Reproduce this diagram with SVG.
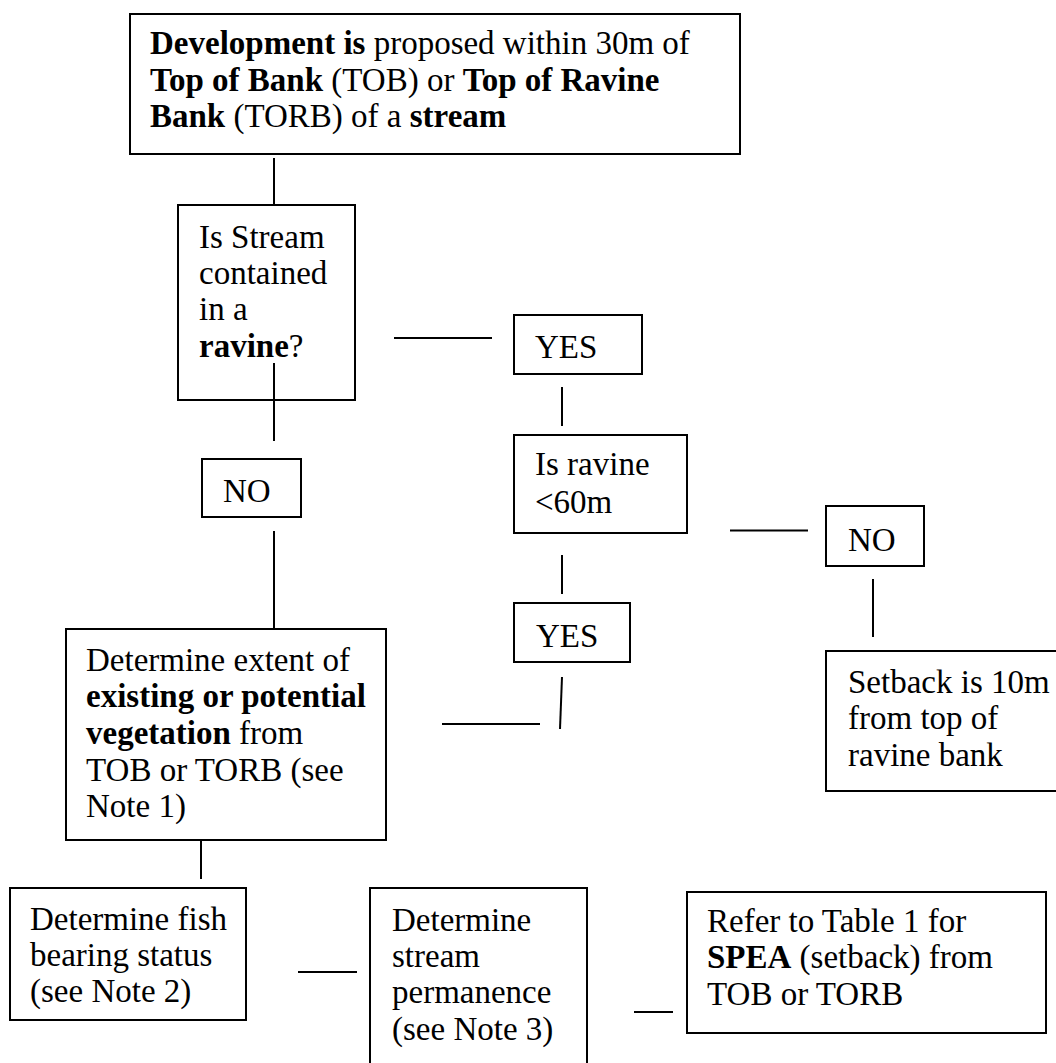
<svg xmlns="http://www.w3.org/2000/svg" width="1056" height="1063" viewBox="0 0 1056 1063" font-family="Liberation Serif, serif">
<style>
.box{fill:#fff;stroke:#000;stroke-width:2}
.ln{stroke:#000;stroke-width:2;fill:none}
text{font-family:'Liberation Serif',serif;font-size:33px;fill:#000}
.b{font-weight:bold}
</style>
<rect width="1056" height="1063" fill="#fff"/>
<g id="connectors">
<line class="ln" x1="274" y1="158" x2="274" y2="205"/>
<line class="ln" x1="394" y1="338" x2="492" y2="338"/>
<line class="ln" x1="562" y1="387" x2="562" y2="426"/>
<line class="ln" x1="274" y1="363" x2="274" y2="441"/>
<line class="ln" x1="274" y1="531" x2="274" y2="628"/>
<line class="ln" x1="562" y1="555" x2="562" y2="594"/>
<line class="ln" x1="730" y1="530.5" x2="808" y2="530.5"/>
<line class="ln" x1="873" y1="579" x2="873" y2="637"/>
<line class="ln" x1="562" y1="677" x2="560" y2="729"/>
<line class="ln" x1="442" y1="724" x2="540" y2="724"/>
<line class="ln" x1="201" y1="840" x2="201" y2="879"/>
<line class="ln" x1="298" y1="972" x2="357" y2="972"/>
<line class="ln" x1="634" y1="1012" x2="673" y2="1012"/>
</g>
<g id="start">
<rect class="box" x="130" y="14" width="610" height="140"/>
<text x="150" y="54"><tspan class="b">Development is</tspan> proposed within 30m of</text>
<text x="150" y="91"><tspan class="b">Top of Bank</tspan> (TOB) or <tspan class="b">Top of Ravine</tspan></text>
<text x="150" y="127"><tspan class="b">Bank</tspan> (TORB) of a <tspan class="b">stream</tspan></text>
</g>
<g id="q-ravine">
<rect class="box" x="178" y="205" width="177" height="195" fill-opacity="0"/>
<text x="199" y="248">Is Stream</text>
<text x="199" y="284">contained</text>
<text x="199" y="320">in a</text>
<text x="199" y="357"><tspan class="b">ravine</tspan>?</text>
</g>
<g id="yes1">
<rect class="box" x="514" y="315" width="128" height="59"/>
<text x="535" y="358">YES</text>
</g>
<g id="no1">
<rect class="box" x="202" y="459" width="99" height="58"/>
<text x="223" y="502">NO</text>
</g>
<g id="q-width">
<rect class="box" x="514" y="435" width="173" height="98"/>
<text x="535" y="475">Is ravine</text>
<text x="535" y="513">&lt;60m</text>
</g>
<g id="no2">
<rect class="box" x="826" y="506" width="98" height="60"/>
<text x="848" y="551">NO</text>
</g>
<g id="yes2">
<rect class="box" x="514" y="603" width="116" height="59"/>
<text x="536" y="647">YES</text>
</g>
<g id="setback">
<rect class="box" x="826" y="651" width="240" height="140"/>
<text x="848" y="693">Setback is 10m</text>
<text x="848" y="729">from top of</text>
<text x="848" y="766">ravine bank</text>
</g>
<g id="vegetation">
<rect class="box" x="66" y="629" width="320" height="211"/>
<text x="86" y="671">Determine extent of</text>
<text x="86" y="707" class="b">existing or potential</text>
<text x="86" y="744"><tspan class="b">vegetation</tspan> from</text>
<text x="86" y="781">TOB or TORB (see</text>
<text x="86" y="817">Note 1)</text>
</g>
<g id="fish">
<rect class="box" x="10" y="888" width="236" height="132"/>
<text x="30" y="930">Determine fish</text>
<text x="30" y="966">bearing status</text>
<text x="30" y="1002">(see Note 2)</text>
</g>
<g id="permanence">
<rect class="box" x="370" y="888" width="217" height="190"/>
<text x="392" y="931">Determine</text>
<text x="392" y="967">stream</text>
<text x="392" y="1003">permanence</text>
<text x="392" y="1040">(see Note 3)</text>
</g>
<g id="spea">
<rect class="box" x="687" y="892" width="359" height="141"/>
<text x="707" y="932">Refer to Table 1 for</text>
<text x="707" y="968"><tspan class="b">SPEA</tspan> (setback) from</text>
<text x="707" y="1005">TOB or TORB</text>
</g>
</svg>
